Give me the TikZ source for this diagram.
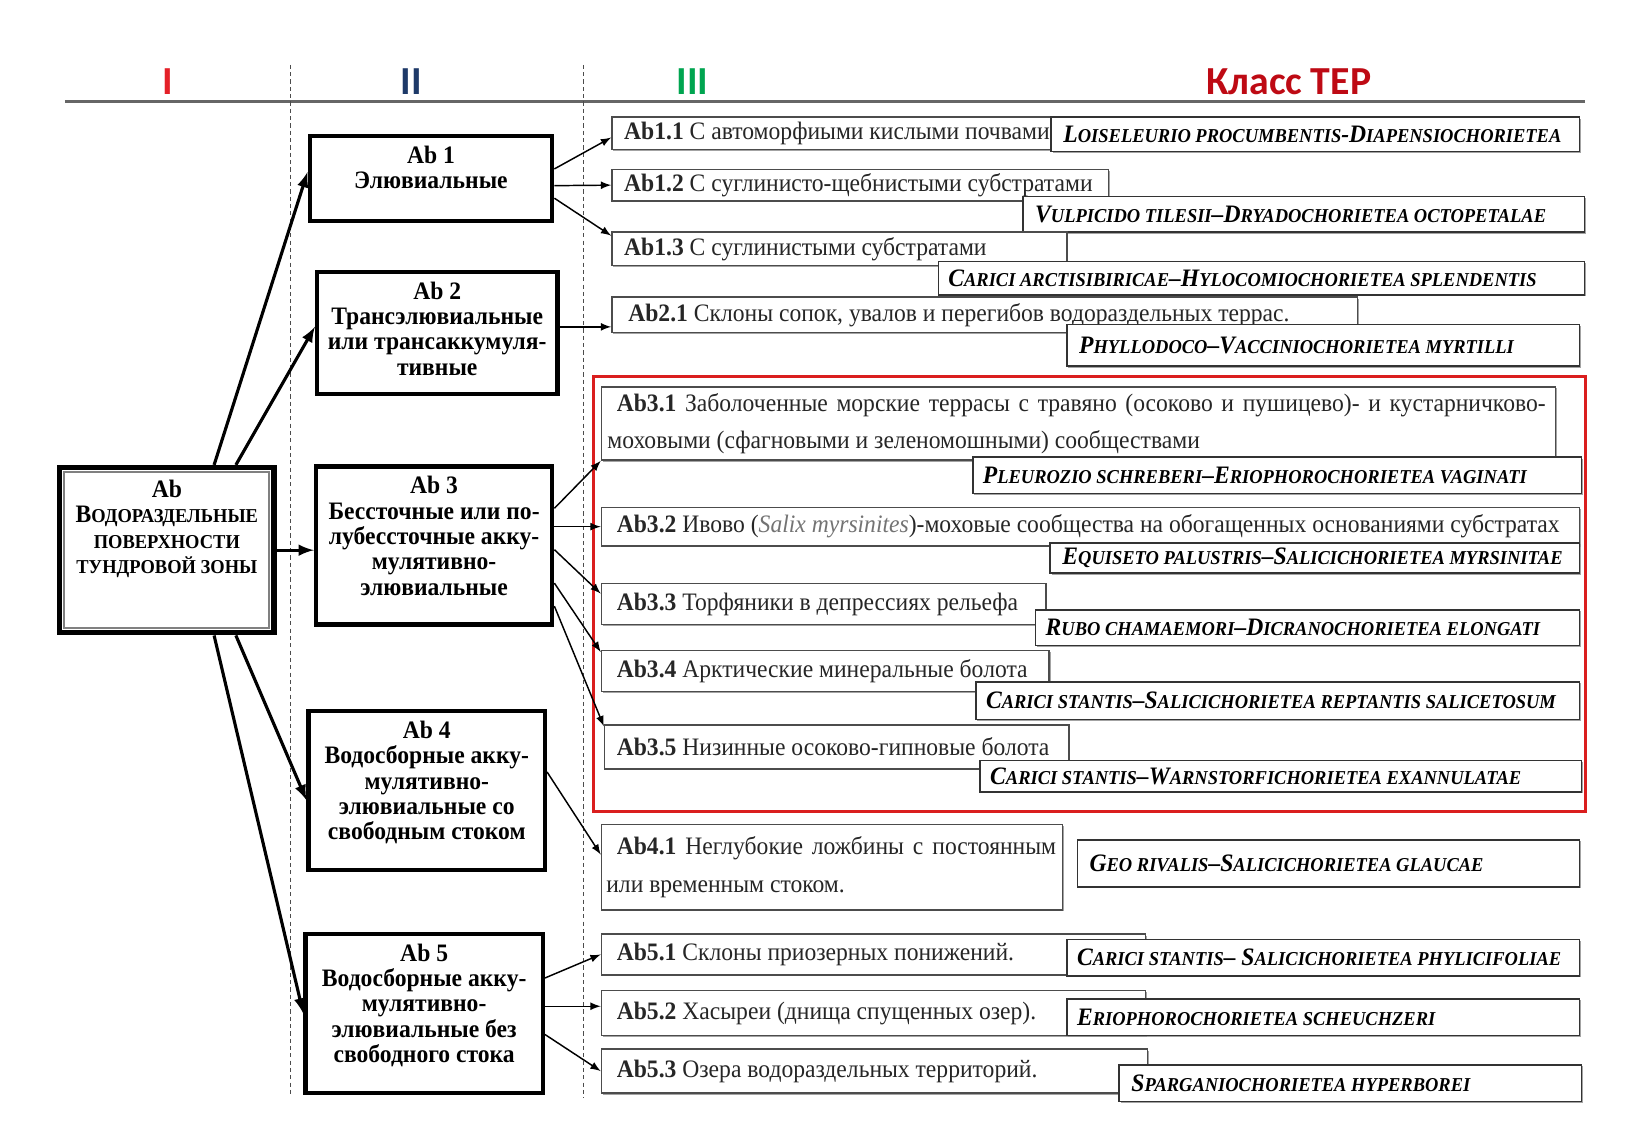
\documentclass[tikz,border=0pt]{standalone}
\usepackage{fontspec}
\setmainfont{Liberation Serif}[FakeStretch=0.94]
\newfontfamily\headfont{Carlito}
\usetikzlibrary{fit,shadows}

\definecolor{colI}{RGB}{228,32,40}
\definecolor{colII}{RGB}{30,58,105}
\definecolor{colIII}{RGB}{0,165,80}
\definecolor{colTEP}{RGB}{190,10,20}
\definecolor{colFrame}{RGB}{218,30,30}

% small caps faked by hand (Liberation Serif has none)
\newcommand\smc[1]{{\fontsize{9.4}{10}\selectfont #1}}
\newcommand\tep[1]{\textbf{\textit{#1}}}

\tikzset{
  bigbox/.style={draw, line width=2pt, inner sep=0pt},
  subbox/.style={draw=black!70, line width=0.7pt, fill=white, inner sep=0pt,
    drop shadow={shadow xshift=0.7pt, shadow yshift=-0.7pt, fill=black!45, opacity=0.8}},
  tepbox/.style={subbox, draw=black!80},
  subtext/.style={anchor=west, inner sep=0pt, text=black!85, font=\fontsize{12}{14}\selectfont},
  teptext/.style={anchor=west, inner sep=0pt, font=\fontsize{12}{14}\selectfont},
  bigtext/.style={anchor=north, align=center, inner sep=0pt, font=\bfseries\fontsize{12}{12.1}\selectfont},
  headtext/.style={font=\headfont\bfseries\fontsize{19}{19}\selectfont},
  fat arrow/.style={-latex, line width=1.5pt},
  thin arrow/.style={-latex, line width=0.7pt},
  divider/.style={dash pattern=on 2pt off 1.5pt, line width=0.5pt, black!70},
  redframe/.style={draw=colFrame, line width=1.5pt, inner sep=0pt},
}

\begin{document}
\begin{tikzpicture}[x=0.5pt,y=-0.5pt]
\useasboundingbox (0,0) rectangle (1566,1090);

% header
\draw[black!60, line width=1.5pt] (62,97) -- (1515,97);
\node[headtext, text=colI] (hI) at (160,78) {I};
\node[headtext, text=colII] (hII) at (393,78) {II};
\node[headtext, text=colIII] (hIII) at (662,78) {III};
\node[headtext, text=colTEP] (hTEP) at (1232,78) {Класс ТЕР};
\draw[divider] (278,62) -- (278,1048);
\draw[divider] (558,62) -- (558,1050);

% level I
\node[bigbox, line width=2.5pt, fit={(57,447) (262,605)}] (ab) {};
\draw[black!50, line width=1pt] ([shift={(3.5pt,-3.5pt)}]ab.north west) rectangle ([shift={(-3.5pt,3.5pt)}]ab.south east);
\node[bigtext] at ([yshift=-7pt]ab.north) {Ab\\В\smc{ОДОРАЗДЕЛЬНЫЕ}\\\smc{ПОВЕРХНОСТИ}\\\smc{ТУНДРОВОЙ ЗОНЫ}};

% level II
\node[bigbox, fit={(296,130) (528,211)}] (ab1) {};
\node[bigtext] at ([yshift=-5.5pt]ab1.north) {Ab 1\\Элювиальные};
\node[bigbox, fit={(303,260) (533,377)}] (ab2) {};
\node[bigtext] at ([yshift=-5.5pt]ab2.north) {Ab 2\\Трансэлювиальные\\или трансаккумуля-\\тивные};
\node[bigbox, fit={(302,446) (528,597)}] (ab3) {};
\node[bigtext] at ([yshift=-5.5pt]ab3.north) {Ab 3\\Бессточные или по-\\лубессточные акку-\\мулятивно-\\элювиальные};
\node[bigbox, fit={(295,680) (521,832)}] (ab4) {};
\node[bigtext] at ([yshift=-5.5pt]ab4.north) {Ab 4\\Водосборные акку-\\мулятивно-\\элювиальные со\\свободным стоком};
\node[bigbox, fit={(292,893) (519,1045)}] (ab5) {};
\node[bigtext] at ([yshift=-5.5pt]ab5.north) {Ab 5\\Водосборные акку-\\мулятивно-\\элювиальные без\\свободного стока};

\draw[fat arrow] (ab.61) -- ([yshift=3pt]ab1.west);
\draw[fat arrow] (ab.51) -- ([yshift=3pt]ab2.west);
\draw[fat arrow] (ab.east) -- (ab.east -| ab3.west);
\draw[fat arrow] (ab.-51) -- ([yshift=-4.5pt]ab4.west);
\draw[fat arrow] (ab.-61) -- (ab5.west);

% level III: Ab1, Ab2
\node[subbox, fit={(585,112) (1008,143)}] (a11) {};
\node[subtext] at ([xshift=6pt]a11.west) {\textbf{Ab1.1} С автоморфиыми кислыми почвами};
\node[tepbox, fit={(1005,112) (1510,145)}] (c11) {};
\node[teptext] at ([xshift=6pt]c11.west) {\tep{L\smc{OISELEURIO PROCUMBENTIS}-D\smc{IAPENSIOCHORIETEA}}};

\node[subbox, fit={(585,162) (1060,192)}] (a12) {};
\node[subtext] at ([xshift=6pt]a12.west) {\textbf{Ab1.2} С суглинисто-щебнистыми субстратами};
\node[tepbox, fit={(978,188) (1515,222)}] (c12) {};
\node[teptext] at ([xshift=6pt]c12.west) {\tep{V\smc{ULPICIDO TILESII}--D\smc{RYADOCHORIETEA OCTOPETALAE}}};

\node[subbox, fit={(585,222) (1020,254)}] (a13) {};
\node[subtext] at ([xshift=6pt]a13.west) {\textbf{Ab1.3} С суглинистыми субстратами};
\node[tepbox, fit={(897,250) (1515,282)}] (c13) {};
\node[teptext] at ([xshift=5pt]c13.west) {\tep{C\smc{ARICI ARCTISIBIRICAE}--H\smc{YLOCOMIOCHORIETEA SPLENDENTIS}}};

\node[subbox, fit={(585,284) (1298,318)}] (a21) {};
\node[subtext] at ([xshift=8pt]a21.west) {\textbf{Ab2.1} Склоны сопок, увалов и перегибов водораздельных террас.};
\node[tepbox, fit={(1020,310) (1510,350)}] (c21) {};
\node[teptext] at ([xshift=6pt]c21.west) {\tep{P\smc{HYLLODOCO}--V\smc{ACCINIOCHORIETEA MYRTILLI}}};

\draw[thin arrow] ([yshift=4.5pt]ab1.east) -- ([yshift=-2pt]a11.west);
\draw[thin arrow] ([yshift=-3.5pt]ab1.east) -- (a12.west);
\draw[thin arrow] ([yshift=-9.5pt]ab1.east) -- ([yshift=-2pt]a13.north west);
\draw[thin arrow] ([yshift=3pt]ab2.east) -- ([yshift=3pt]ab2.east -| a21.west);

% level III: Ab3
\node[subbox, fit={(575,370) (1487,440)}] (a31) {};
\node[subtext, align=left] at ([xshift=7.5pt]a31.west) {\makebox[444pt][s]{\textbf{Ab3.1} Заболоченные морские террасы с травяно (осоково и пушицево)- и кустарничково-}\\[3.5pt]\hspace*{-4.5pt}моховыми (сфагновыми и зеленомошными) сообществами};
\node[tepbox, fit={(930,437) (1512,472)}] (c31) {};
\node[teptext] at ([xshift=5pt]c31.west) {\tep{P\smc{LEUROZIO SCHREBERI}--E\smc{RIOPHOROCHORIETEA VAGINATI}}};

\node[subbox, fit={(575,485) (1510,522)}] (a32) {};
\node[subtext] at ([xshift=7.5pt]a32.west) {\textbf{Ab3.2} Ивово (\textcolor{black!55}{\textit{Salix myrsinites}})-моховые сообщества на обогащенных основаниями субстратах};
\node[tepbox, fit={(1004,519) (1510,548)}] (c32) {};
\node[teptext] at ([xshift=6pt]c32.west) {\tep{E\smc{QUISETO PALUSTRIS}--S\smc{ALICICHORIETEA MYRSINITAE}}};

\node[subbox, fit={(575,558) (1000,597)}] (a33) {};
\node[subtext] at ([xshift=7.5pt]a33.west) {\textbf{Ab3.3} Торфяники в депрессиях рельефа};
\node[tepbox, fit={(990,583) (1510,617)}] (c33) {};
\node[teptext] at ([xshift=5pt]c33.west) {\tep{R\smc{UBO CHAMAEMORI}--D\smc{ICRANOCHORIETEA ELONGATI}}};

\node[subbox, fit={(575,622) (1003,661)}] (a34) {};
\node[subtext] at ([xshift=7.5pt]a34.west) {\textbf{Ab3.4} Арктические минеральные болота};
\node[tepbox, fit={(933,652) (1510,688)}] (c34) {};
\node[teptext] at ([xshift=5pt]c34.west) {\tep{C\smc{ARICI STANTIS}--S\smc{ALICICHORIETEA REPTANTIS SALICETOSUM}}};

\node[subbox, fit={(578,693) (1022,735)}] (a35) {};
\node[subtext] at ([xshift=6pt]a35.west) {\textbf{Ab3.5} Низинные осоково-гипновые болота};
\node[tepbox, fit={(937,727) (1512,757)}] (c35) {};
\node[teptext] at ([xshift=5pt]c35.west) {\tep{C\smc{ARICI STANTIS}--W\smc{ARNSTORFICHORIETEA EXANNULATAE}}};

\node[redframe, fit={(567,360) (1516,776)}] (grp3) {};

\draw[thin arrow] ([yshift=17.75pt]ab3.east) -- (a31.south west);
\draw[thin arrow] ([yshift=9pt]ab3.east) -- ([yshift=9pt]ab3.east -| a32.west);
\draw[thin arrow] ([yshift=-2pt]ab3.east) -- ([yshift=5pt]a33.west);
\draw[thin arrow] ([yshift=-18pt]ab3.east) -- ([yshift=-1pt]a34.north west);
\draw[thin arrow] ([yshift=-29pt]ab3.east) -- ([yshift=-1pt]a35.north west);

% level III: Ab4, Ab5
\node[subbox, fit={(575,788) (1016,870)}] (a41) {};
\node[subtext, align=left] at ([xshift=7.5pt]a41.west) {\makebox[210pt][s]{\textbf{Ab4.1} Неглубокие ложбины с постоянным}\\[4.5pt]\hspace*{-5pt}или временным стоком.};
\node[tepbox, fit={(1030,803) (1510,848)}] (c41) {};
\node[teptext] at ([xshift=6pt]c41.west) {\tep{G\smc{EO RIVALIS}--S\smc{ALICICHORIETEA GLAUCAE}}};

\node[subbox, fit={(575,893) (1095,932)}] (a51) {};
\node[subtext] at ([xshift=7.5pt]a51.west) {\textbf{Ab5.1} Склоны приозерных понижений.};
\node[tepbox, fit={(1020,898) (1510,933)}] (c51) {};
\node[teptext] at ([xshift=5pt]c51.west) {\tep{C\smc{ARICI STANTIS}-- S\smc{ALICICHORIETEA PHYLICIFOLIAE}}};

\node[subbox, fit={(575,947) (1095,990)}] (a52) {};
\node[subtext] at ([xshift=7.5pt]a52.west) {\textbf{Ab5.2} Хасыреи (днища спущенных озер).};
\node[tepbox, fit={(1020,955) (1510,990)}] (c52) {};
\node[teptext] at ([xshift=5pt]c52.west) {\tep{E\smc{RIOPHOROCHORIETEA SCHEUCHZERI}}};

\node[subbox, fit={(575,1003) (1097,1045)}] (a53) {};
\node[subtext] at ([xshift=7.5pt]a53.west) {\textbf{Ab5.3} Озера водораздельных территорий.};
\node[tepbox, fit={(1070,1018) (1512,1053)}] (c53) {};
\node[teptext] at ([xshift=6pt]c53.west) {\tep{S\smc{PARGANIOCHORIETEA HYPERBOREI}}};

\draw[thin arrow] ([yshift=9pt]ab4.east) -- ([yshift=6pt]a41.west);
\draw[thin arrow] ([yshift=17pt]ab5.east) -- (a51.west);
\draw[thin arrow] ([yshift=3.5pt]ab5.east) -- ([yshift=3.5pt]ab5.east -| a52.west);
\draw[thin arrow] ([yshift=-10pt]ab5.east) -- (a53.west);
\end{tikzpicture}
\end{document}
